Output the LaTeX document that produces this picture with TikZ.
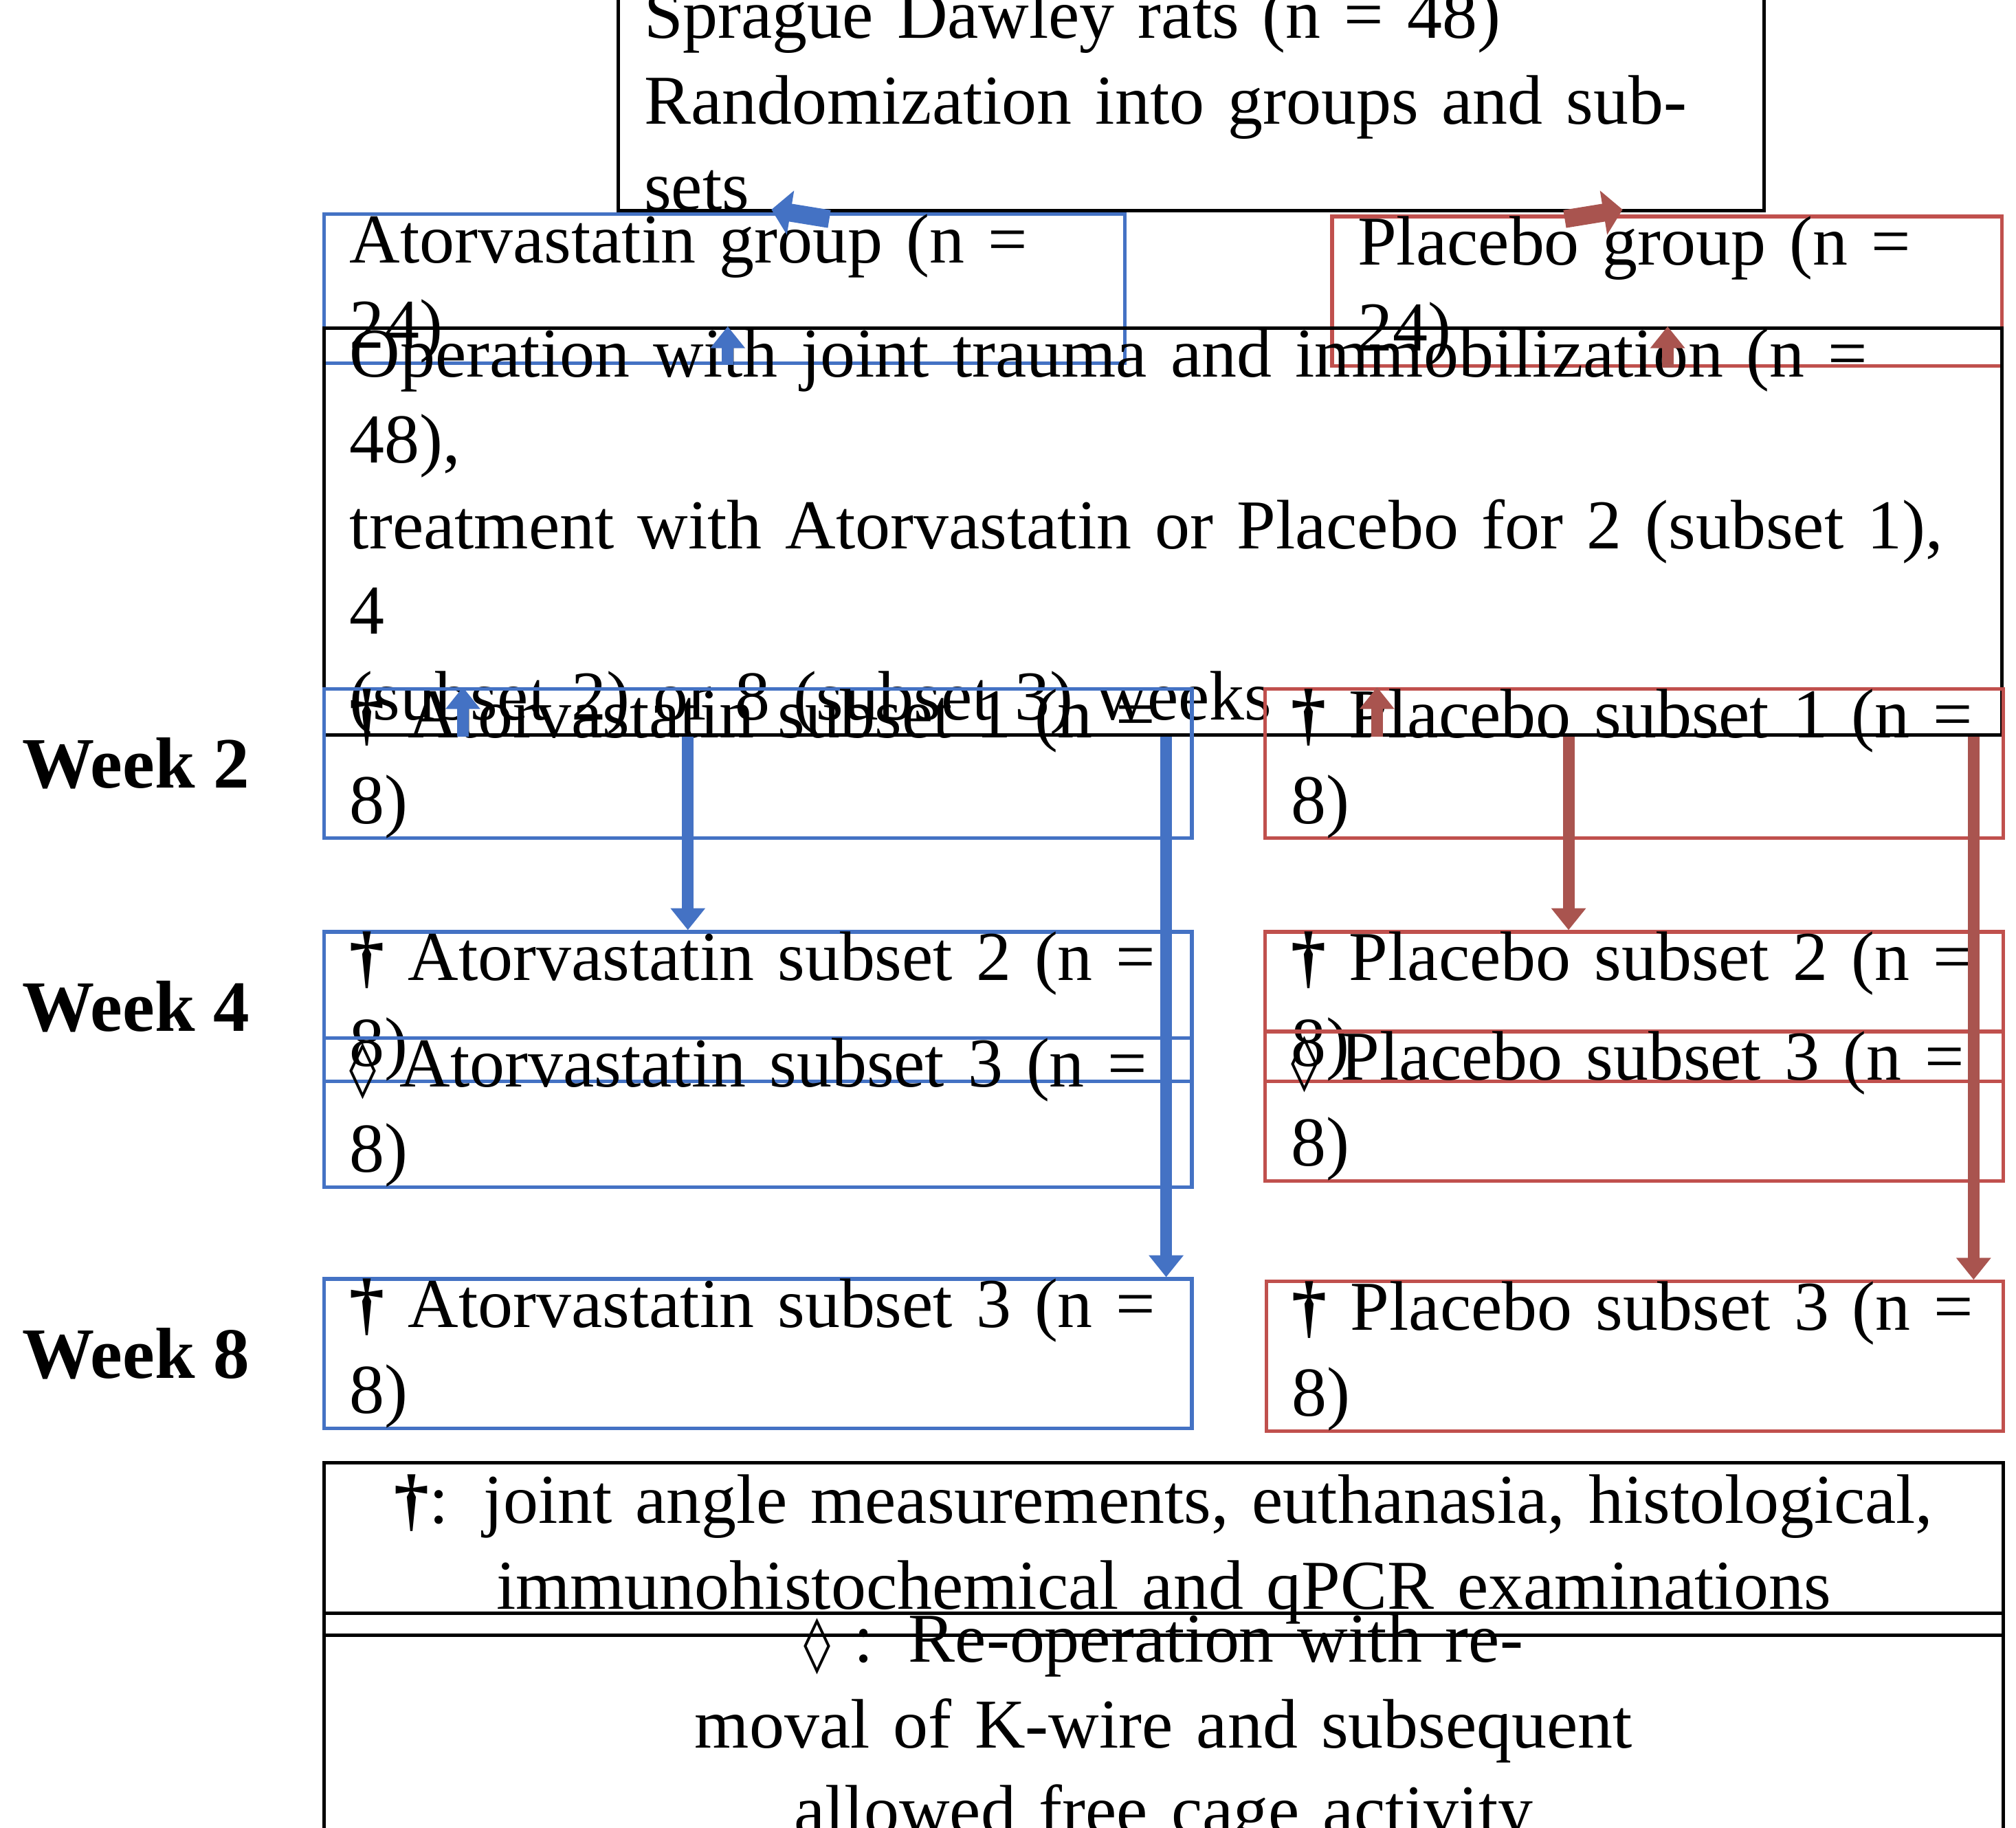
\documentclass[tikz,border=0pt]{standalone}
\usepackage{fontspec}
\setmainfont{Liberation Serif}
\newfontfamily\dvs{DejaVu Sans}
\usetikzlibrary{arrows.meta}
\definecolor{bl}{HTML}{4472C4}
\definecolor{rd}{HTML}{C0504D}
\definecolor{rda}{HTML}{A9544F}
\tikzset{
 box/.style={draw, line width=0.8pt, inner xsep=0.2cm, inner ysep=0pt, align=left, font=\fontsize{15.5}{19}\selectfont},
 bbox/.style={box, draw=bl},
 rbox/.style={box, draw=rd},
 wk/.style={font=\fontsize{16}{18}\selectfont\bfseries, anchor=west},
 va/.style={line width=0.09cm, -{Triangle[width=0.26cm,length=0.17cm]}},
 da/.style={line width=0.14cm, -{Triangle[width=0.34cm,length=0.15cm]}},
}
\newcommand{\dg}{{\bfseries †}}
\newcommand{\dm}{{\dvs\bfseries\fontsize{12}{15}\selectfont ◊}}
\begin{document}
\begin{tikzpicture}
\useasboundingbox (0,0) rectangle (15.68,-14.22);
\node[box, minimum width=8.91cm, minimum height=1.32cm, text width=8.51cm] (top) at (9.265,-0.78) {Sprague Dawley rats (n = 48)\\Randomization into groups and subsets};
\node[bbox, minimum width=6.23cm, minimum height=0.77cm, text width=5.83cm] (ag) at (5.635,-2.245) {Atorvastatin group (n = 24)};
\node[rbox, minimum width=5.21cm, minimum height=0.75cm, text width=4.81cm] (pg) at (12.965,-2.265) {Placebo group (n = 24)};
\node[box, minimum width=13.05cm, minimum height=1.89cm, text width=12.65cm] (op) at (9.045,-4.135) {Operation with joint trauma and immobilization (n = 48),\\treatment with Atorvastatin or Placebo for 2 (subset 1), 4\\(subset 2) or 8 (subset 3) weeks};
\node[bbox, minimum width=6.75cm, minimum height=0.76cm, text width=6.35cm] (as1) at (5.895,-5.94) {\dg\ Atorvastatin subset 1 (n = 8)};
\node[rbox, minimum width=5.74cm, minimum height=0.76cm, text width=5.34cm] (ps1) at (12.71,-5.94) {\dg\ Placebo subset 1 (n = 8)};
\node[bbox, minimum width=6.75cm, minimum height=0.76cm, text width=6.35cm] (as2) at (5.895,-7.83) {\dg\ Atorvastatin subset 2 (n = 8)};
\node[bbox, minimum width=6.75cm, minimum height=0.77cm, text width=6.35cm] (as3d) at (5.895,-8.655) {\dm\ Atorvastatin subset 3 (n = 8)};
\node[rbox, minimum width=5.74cm, minimum height=0.76cm, text width=5.34cm] (ps2) at (12.71,-7.83) {\dg\ Placebo subset 2 (n = 8)};
\node[rbox, minimum width=5.74cm, minimum height=0.77cm, text width=5.34cm] (ps3d) at (12.71,-8.605) {\dm\ Placebo subset 3 (n = 8)};
\node[bbox, minimum width=6.75cm, minimum height=0.76cm, text width=6.35cm] (as3) at (5.895,-10.53) {\dg\ Atorvastatin subset 3 (n = 8)};
\node[rbox, minimum width=5.73cm, minimum height=0.76cm, text width=5.33cm] (ps3) at (12.715,-10.55) {\dg\ Placebo subset 3 (n = 8)};
\node[box, align=center, minimum width=13.06cm, minimum height=1.34cm, text width=12.66cm] (l1) at (9.05,-12.05) {\dg: joint angle measurements, euthanasia, histological,\\immunohistochemical and qPCR examinations};
\node[box, align=center, minimum width=13.06cm, minimum height=1.33cm, text width=12.66cm] (l2) at (9.05,-13.465) {\dm\ : Re-operation with removal of K-wire and subsequent\\allowed free cage activity};
\node[wk] (w2) at (0.05,-5.94) {Week 2};
\node[wk] (w4) at (0.05,-7.83) {Week 4};
\node[wk] (w8) at (0.05,-10.53) {Week 8};
\coordinate (d1a) at (6.45,0); \coordinate (d1b) at (6.0,0);
\coordinate (d2a) at (12.17,0); \coordinate (d2b) at (12.62,0);
\coordinate (xa) at (5.66,0); \coordinate (xp) at (12.97,0);
\coordinate (b1) at (3.60,0); \coordinate (b2) at (5.35,0); \coordinate (b3) at (9.07,0);
\coordinate (r1) at (10.71,0); \coordinate (r2) at (12.20,0); \coordinate (r3) at (15.35,0);
\draw[da, bl] ([yshift=-0.05cm]top.south -| d1a) -- ([yshift=0.02cm]ag.north -| d1b);
\draw[da, rda] ([yshift=-0.05cm]top.south -| d2a) -- ([yshift=0.04cm]pg.north -| d2b);
\draw[va, bl] (ag.south -| xa) -- (op.north -| xa);
\draw[va, rda] (pg.south -| xp) -- (op.north -| xp);
\draw[va, bl] (op.south -| b1) -- (as1.north -| b1);
\draw[va, bl] (op.south -| b2) -- (as2.north -| b2);
\draw[va, bl] (op.south -| b3) -- (as3.north -| b3);
\draw[va, rda] (op.south -| r1) -- (ps1.north -| r1);
\draw[va, rda] (op.south -| r2) -- (ps2.north -| r2);
\draw[va, rda] (op.south -| r3) -- (ps3.north -| r3);
\end{tikzpicture}
\end{document}
